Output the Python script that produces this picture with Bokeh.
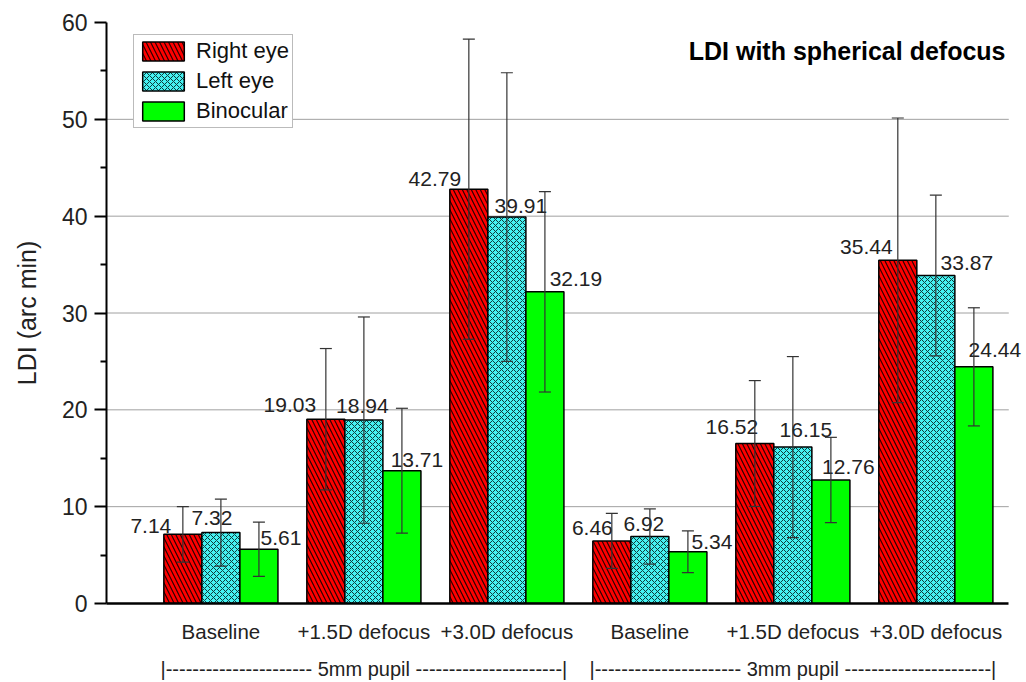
from bokeh.plotting import figure
from bokeh.models import (ColumnDataSource, Range1d, FixedTicker, Whisker, TeeHead,
                          LinearAxis, Label)
from bokeh.embed import file_html
from bokeh.resources import INLINE

# ---------------- data ----------------
categories = ["Baseline", "+1.5D defocus", "+3.0D defocus",
              "Baseline", "+1.5D defocus", "+3.0D defocus"]
groups = ["|---------------------- 5mm pupil ----------------------|",
          "|---------------------- 3mm pupil ----------------------|"]
series = ["Right eye", "Left eye", "Binocular"]
right_eye = [7.14, 19.03, 42.79, 6.46, 16.52, 35.44]
left_eye = [7.32, 18.94, 39.91, 6.92, 16.15, 33.87]
binocular = [5.61, 13.71, 32.19, 5.34, 12.76, 24.44]
right_sd = [2.87, 7.3, 15.5, 2.84, 6.5, 14.7]
left_sd = [3.45, 10.65, 14.9, 2.85, 9.35, 8.3]
bino_sd = [2.8, 6.45, 10.35, 2.15, 4.4, 6.1]
y_ticks = [0, 10, 20, 30, 40, 50, 60]
grid_ticks = [10, 20, 30, 40, 50]

# ---------------- style (label placement in screen px) ----------------
right_dx = [-32, -36, -34, -19.5, -23, -31.5]
right_gap = [3, 9, 5, 8, 12, 8]
left_dx = [-9, -1.5, 14, -6, 13, 31]
left_gap = [10, 9, 6, 7, 12, 8]
bino_dx = [22, 15, 31, 24, 17.5, 21]
bino_gap = [6, 6, 8, 5, 8, 12]
BASELINE_FIX = 5

FONT = "Liberation Sans"
BW = 0.266
X0, X1 = 0.2, 6.51
pos = [i + 1 for i in range(len(categories))]

p = figure(width=1026, height=682, output_backend="svg", toolbar_location=None,
           x_range=Range1d(X0, 6.62), y_range=Range1d(0, 60))
p.min_border_left = 106
p.min_border_right = 2
p.min_border_top = 22
p.min_border_bottom = 74
p.outline_line_color = None
p.background_fill_color = "white"
p.border_fill_color = "white"

# grid (drawn as segments so it stops at the end of the axis)
p.xgrid.visible = False
p.ygrid.visible = False
p.segment(x0=[X0] * len(grid_ticks), x1=[X1] * len(grid_ticks),
          y0=grid_ticks, y1=grid_ticks, line_color="#a0a0a0", line_width=1)

# y axis
ya = p.yaxis[0]
ya.ticker = FixedTicker(ticks=y_ticks, minor_ticks=[5, 15, 25, 35, 45, 55])
ya.axis_label = "LDI (arc min)"
ya.axis_label_text_font = FONT
ya.axis_label_text_font_size = "25px"
ya.axis_label_text_font_style = "normal"
ya.axis_label_text_color = "#222222"
ya.axis_label_standoff = 18
ya.major_label_text_font = FONT
ya.major_label_text_font_size = "23px"
ya.major_label_text_color = "#222222"
ya.major_label_standoff = 7
ya.axis_line_color = "black"
ya.axis_line_width = 2
ya.major_tick_line_color = "black"
ya.major_tick_line_width = 2
ya.major_tick_out = 12
ya.major_tick_in = 0
ya.minor_tick_line_color = "black"
ya.minor_tick_line_width = 2
ya.minor_tick_out = 6
ya.minor_tick_in = 0

# x axis (categories)
xa = p.xaxis[0]
xa.ticker = FixedTicker(ticks=pos)
xa.bounds = (X0, X1)
xa.major_label_overrides = {float(x): c for x, c in zip(pos, categories)}
xa.major_label_text_font = FONT
xa.major_label_text_font_size = "20.5px"
xa.major_label_text_color = "#222222"
xa.major_label_standoff = 10
xa.axis_line_color = "black"
xa.axis_line_width = 2.5
xa.major_tick_line_color = None
xa.minor_tick_line_color = None

# group axis
ga = LinearAxis(ticker=FixedTicker(ticks=[2, 5]),
                major_label_overrides={2.0: groups[0], 5.0: groups[1]},
                axis_line_color=None, major_tick_line_color=None,
                minor_tick_line_color=None,
                major_label_text_font=FONT, major_label_text_font_size="20px",
                major_label_text_color="#222222", major_label_standoff=6)
p.add_layout(ga, "below")

# bars
styles = [
    dict(fill_color="#ff0000", hatch_pattern="left_diagonal_line", hatch_color="#2a0000",
         hatch_scale=9, hatch_weight=1.2),
    dict(fill_color="#45f2f2", hatch_pattern="diagonal_cross", hatch_color="#0f3a3a",
         hatch_scale=6, hatch_weight=1.0),
    dict(fill_color="#00ff00"),
]
vals = [right_eye, left_eye, binocular]
sds = [right_sd, left_sd, bino_sd]
dxs = [right_dx, left_dx, bino_dx]
gaps = [right_gap, left_gap, bino_gap]
shifts = [-BW, 0, BW]

for name, v, sd, dx, gp, sh, st in zip(series, vals, sds, dxs, gaps, shifts, styles):
    xs = [x + sh for x in pos]
    src = ColumnDataSource(dict(
        x=xs, top=v,
        upper=[a + b for a, b in zip(v, sd)],
        lower=[a - b for a, b in zip(v, sd)],
    ))
    p.vbar(x="x", top="top", width=BW, source=src, line_color="black",
           line_width=1.5, legend_label=name, **st)
    for xi, vi, dxi, gpi in zip(xs, v, dx, gp):
        p.add_layout(Label(x=xi, y=vi, text=f"{vi:.2f}", x_offset=dxi,
                           y_offset=gpi + BASELINE_FIX,
                           text_align="center", text_baseline="alphabetic",
                           text_font=FONT, text_font_size="21px",
                           text_color="#222222", level="glyph"))
    w = Whisker(base="x", upper="upper", lower="lower", source=src,
                line_color="#333333", line_width=1.2, level="annotation",
                upper_head=TeeHead(size=12, line_color="#333333", line_width=1.2),
                lower_head=TeeHead(size=12, line_color="#333333", line_width=1.2))
    p.add_layout(w)

# title
p.add_layout(Label(x=6.487, y=57.1, text="LDI with spherical defocus",
                   text_align="right", text_baseline="alphabetic",
                   text_font=FONT, text_font_size="25px", text_font_style="bold",
                   text_color="black"))

# legend
lg = p.legend[0]
lg.location = (27, 475)
lg.margin = 0
lg.padding = 3
lg.spacing = 4
lg.glyph_width = 52
lg.glyph_height = 24
lg.label_standoff = 7
lg.label_text_font = FONT
lg.label_text_font_size = "22px"
lg.label_text_color = "#111111"
lg.border_line_color = "#777777"
lg.border_line_width = 1.5
lg.background_fill_alpha = 1

open("out.html", "w").write(file_html(p, INLINE))
